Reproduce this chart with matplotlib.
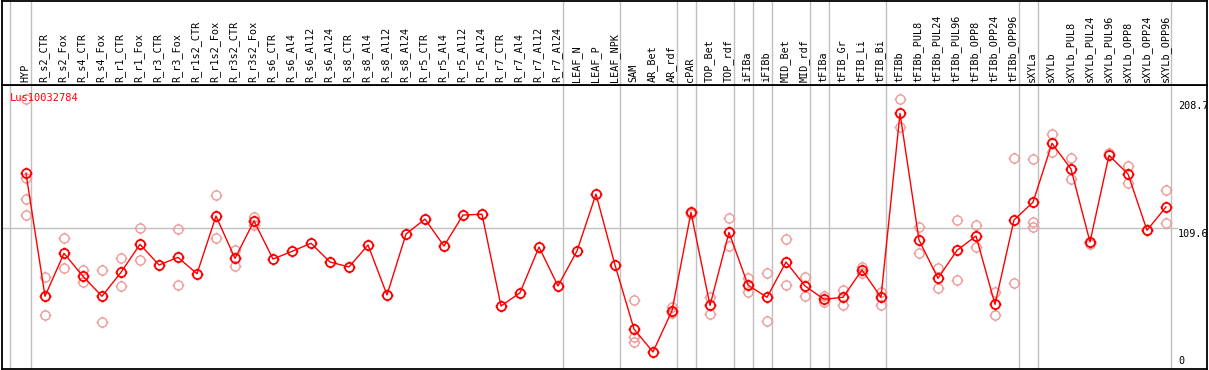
import matplotlib
matplotlib.use("Agg")
import matplotlib.pyplot as plt
from matplotlib.path import Path
import numpy as np

gene_id = "Lus10032784"

samples = [
    "HYP", "R_s2_CTR", "R_s2_Fox", "R_s4_CTR", "R_s4_Fox", "R_r1_CTR", "R_r1_Fox",
    "R_r3_CTR", "R_r3_Fox", "R_r1s2_CTR", "R_r1s2_Fox", "R_r3s2_CTR", "R_r3s2_Fox",
    "R_s6_CTR", "R_s6_Al4", "R_s6_Al12", "R_s6_Al24", "R_s8_CTR", "R_s8_Al4",
    "R_s8_Al12", "R_s8_Al24", "R_r5_CTR", "R_r5_Al4", "R_r5_Al12", "R_r5_Al24",
    "R_r7_CTR", "R_r7_Al4", "R_r7_Al12", "R_r7_Al24", "LEAF_N", "LEAF_P", "LEAF_NPK",
    "SAM", "AR_Bet", "AR_rdf", "cPAR", "TOP_Bet", "TOP_rdf", "iFIBa", "iFIBb",
    "MID_Bet", "MID_rdf", "tFIBa", "tFIB_Gr", "tFIB_Li", "tFIB_Bi", "tFIBb",
    "tFIBb_PUL8", "tFIBb_PUL24", "tFIBb_PUL96", "tFIBb_OPP8", "tFIBb_OPP24", "tFIBb_OPP96",
    "sXYLa", "sXYLb", "sXYLb_PUL8", "sXYLb_PUL24", "sXYLb_PUL96", "sXYLb_OPP8",
    "sXYLb_OPP24", "sXYLb_OPP96",
]

# mean expression per sample
means = [
    151.6, 57.2, 90.2, 72.5, 57.2, 75.6, 97.1, 81.2, 87.1, 74.5, 118.8, 86.3, 115.0,
    85.8, 91.7, 97.9, 83.5, 79.7, 96.6, 58.2, 105.0, 116.5, 95.8, 119.6, 120.2,
    49.7, 59.9, 95.0, 65.1, 92.0, 135.7, 81.2,
    32.0, 14.4, 46.1, 121.7, 50.2, 106.3, 65.8, 56.4, 83.5, 65.1, 54.9, 56.4, 77.4,
    56.4, 197.7, 100.4, 71.0, 92.5, 103.5, 51.0, 115.8,
    129.4, 174.7, 155.0, 98.9, 165.5, 151.1, 107.9, 125.8,
]

# individual replicates (only those visible apart from the mean)
replicates = [
    [208.7, 147.8, 131.7, 119.4], [72.0, 42.6], [101.7, 78.7], [77.1, 68.4],
    [77.1, 37.2], [86.3, 64.8], [109.4, 84.8], [], [108.6, 65.6], [],
    [134.7, 101.7], [92.7, 80.2], [118.3, 111.9],
    [], [], [], [], [], [], [], [], [], [], [], [], [], [], [], [], [], [], [],
    [54.3, 25.7, 21.8], [], [49.2, 44.6], [120.4], [56.8, 43.6], [117.3, 95.8],
    [71.2, 60.7], [74.8, 38.2], [100.9, 65.8], [71.8, 57.4], [57.6, 52.5],
    [62.0, 50.5], [79.4, 75.3], [60.5, 50.5], [208.5, 187.4],
    [110.4, 90.4], [78.9, 63.3], [115.8, 69.4], [111.9, 94.8], [60.5, 42.6],
    [163.2, 67.4], [162.6, 114.2, 110.6], [181.8, 167.8], [163.2, 147.0],
    [97.3], [167.0], [157.3, 144.0], [107.9], [138.8, 113.2],
]

# sample groups are separated after these column indices
group_ends = [0, 28, 31, 34, 35, 37, 38, 39, 41, 42, 45, 52, 53, 60]

y_max_label = 208.7
y_mid_label = 109.6

# circle marker with four small ticks
circ = Path.unit_circle()
ticks = Path([(0, 1), (0, 1.3), (0, -1), (0, -1.3), (1, 0), (1.3, 0), (-1, 0), (-1.3, 0)],
             [Path.MOVETO, Path.LINETO] * 4)
tick_marker = Path.make_compound_path(circ, ticks)

W, H = 1209, 370
fig = plt.figure(figsize=(W / 100, H / 100), dpi=100)
left, right, top_hdr, bottom = 2, 1207, 85, 368.5

ax = fig.add_axes([left / W, (H - bottom) / H, (right - left) / W, (bottom - top_hdr) / H])
hax = fig.add_axes([left / W, (H - top_hdr) / H, (right - left) / W, (top_hdr - 0.5) / H])

x = np.arange(len(samples))
xlim = ((left - 26) / 19, (right - 26) / 19)
for a in (ax, hax):
    a.set_xlim(*xlim)
    a.set_xticks([])
    a.set_yticks([])
    for s in a.spines.values():
        s.set_color("black")
        s.set_linewidth(1.3)
    a.axvline(-0.84, color="#c0c0c0", lw=1)
    for g in group_ends:
        a.axvline(g + 0.25, color="#c0c0c0", lw=1)

ax.set_ylim(1.7, 219.5)
hax.set_ylim(0, 1)

ax.axhline(y_mid_label, xmax=(1177 - left) / (right - left), color="#c0c0c0", lw=1)

# replicates
for i, reps in enumerate(replicates):
    if reps:
        ax.plot([i] * len(reps), reps, linestyle="none", marker=tick_marker, markersize=8.5,
                mfc="none", mec="#f09a9a", mew=1.0)

ax.plot(x, means, color="red", lw=1, marker=tick_marker, markersize=8.5,
        mfc="none", mec="red", mew=1.3)

for i, name in enumerate(samples):
    hax.text(i - 0.05, 0.035, name, rotation=90, ha="center", va="bottom",
             fontsize=7.3, family="DejaVu Sans Mono")

ax.text(-0.84, 0.972, gene_id, transform=ax.get_xaxis_transform(), color="red",
        fontsize=7.5, family="DejaVu Sans Mono", va="top", ha="left")

lx = (1178 - 26) / 19
ax.text(lx, y_max_label - 1.5, f"{y_max_label}", fontsize=7.3, family="DejaVu Sans Mono",
        va="top", ha="left", clip_on=False)
ax.text(lx, y_mid_label - 0.5, f"{y_mid_label}", fontsize=7.3, family="DejaVu Sans Mono",
        va="top", ha="left", clip_on=False)
ax.text(lx, 3.5, "0", fontsize=7.3, family="DejaVu Sans Mono", va="bottom", ha="left",
        clip_on=False)

fig.savefig("out.png", dpi=100)
